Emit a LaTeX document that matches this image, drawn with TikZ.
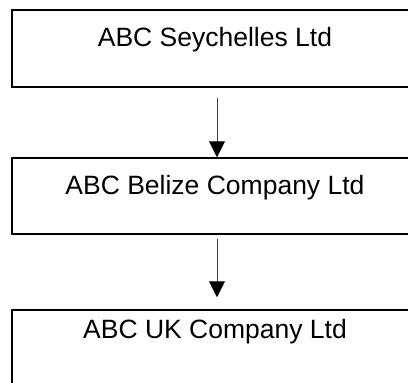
\documentclass[tikz,border=0pt]{standalone}
\usepackage{fontspec}
\setmainfont{Liberation Sans}
\usepackage{xcolor}
\usepackage{tikz}
\usetikzlibrary{arrows.meta, positioning}

\begin{document}
\begin{tikzpicture}[x=1pt, y=1pt,
  company/.style={draw, line width=1.5pt, inner xsep=0pt, inner ysep=0pt,
    minimum width=406pt, anchor=base, font=\fontsize{26.5}{30}\selectfont},
  link/.style={-{Triangle[length=16pt, width=16pt, color=black]}, line width=1pt, draw=black!75}]
\clip (0,0) rectangle (408,-383);
\node[company, text height=36pt, text depth=41pt] (seychelles) at (215,-46) {ABC Seychelles Ltd};
\node[company, text height=36pt, text depth=40pt] (belize) at (215,-194) {ABC Belize Company Ltd};
\node[company, text height=28pt, text depth=70pt] (uk) at (215,-338) {ABC UK Company Ltd};
\draw[link, shorten <=10pt] ([xshift=2pt]seychelles.south) -- ([xshift=2pt]belize.north);
\draw[link, shorten <=4pt, shorten >=12pt] ([xshift=2pt]belize.south) -- ([xshift=2pt]uk.north);
\end{tikzpicture}
\end{document}
